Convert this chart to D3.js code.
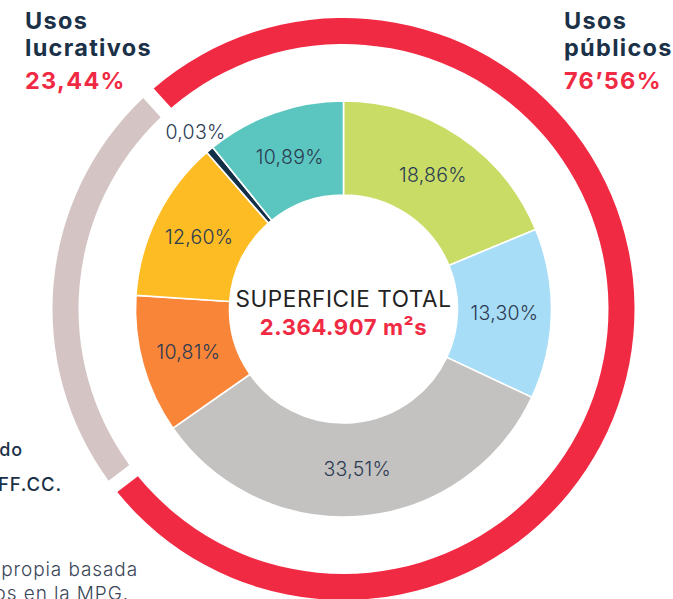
<!DOCTYPE html>
<html>
<head>
<meta charset="utf-8">
<script src="https://cdn.jsdelivr.net/npm/d3@7"></script>
<style>
  body { margin: 0; background: #fff; }
  svg { display: block; font-family: "Inter", "Lato", sans-serif; }
</style>
</head>
<body>
<div id="chart"></div>
<script>
// inner donut: share of total surface (%)
var sliceValues = [18.86, 13.30, 33.51, 10.81, 12.60, 0.03, 10.89];
var sliceLabels = ["18,86%", "13,30%", "33,51%", "10,81%", "12,60%", "0,03%", "10,89%"];
var sliceColors = ["#c9dd66", "#a7ddf6", "#c4c2c0", "#f98538", "#fdbc24", "#142f48", "#5bc6bf"];

// outer ring: public vs lucrative uses
var ringNames = ["Usos públicos", "Usos lucrativos"];
var ringValues = [76.56, 23.44];
var ringLabels = ["76’56%", "23,44%"];
var ringColors = ["#f12a44", "#d4c5c4"];

var width = 673,
  height = 599;
var cx = 343.5,
  cy = 309;
var navy = "#1b3148";

var svg = d3
  .select("#chart")
  .append("svg")
  .attr("width", width)
  .attr("height", height);

var g = svg.append("g").attr("transform", "translate(" + cx + "," + cy + ")");

// outer ring
var ringPie = d3
  .pie()
  .sort(null)
  .startAngle((-42.1 * Math.PI) / 180)
  .endAngle((-42.1 * Math.PI) / 180 + 2 * Math.PI)
  .padAngle(0.036);

var ringArc = d3.arc().innerRadius(265).outerRadius(291);

g.selectAll("path.ring")
  .data(ringPie(ringValues))
  .enter()
  .append("path")
  .attr("class", "ring")
  .attr("d", ringArc)
  .attr("fill", function (d, i) {
    return ringColors[i];
  });

// inner donut (tiny slice widened so it stays visible)
var pie = d3
  .pie()
  .sort(null)
  .value(function (d) {
    return Math.max(d, 0.6);
  });

var arc = d3.arc().innerRadius(114).outerRadius(208);
var labelArc = d3.arc().innerRadius(161).outerRadius(161);
var outsideArc = d3.arc().innerRadius(230).outerRadius(230);

var slices = pie(sliceValues);

g.selectAll("path.slice")
  .data(slices)
  .enter()
  .append("path")
  .attr("class", "slice")
  .attr("d", arc)
  .attr("fill", function (d, i) {
    return sliceColors[i];
  })
  .attr("stroke", "#fff")
  .attr("stroke-width", 1.6);

g.selectAll("text.slice-label")
  .data(slices)
  .enter()
  .append("text")
  .attr("class", "slice-label")
  .attr("transform", function (d) {
    var c = d.data < 1 ? outsideArc.centroid(d) : labelArc.centroid(d);
    if (d.data < 1) c[1] -= 1;
    return "translate(" + c + ")";
  })
  .attr("text-anchor", "middle")
  .attr("dy", "0.35em")
  .attr("font-size", 19.5)
  .attr("font-weight", 300)
  .attr("letter-spacing", 0.3)
  .attr("fill", "#2b3b52")
  .text(function (d, i) {
    return sliceLabels[i];
  });

// centre text
g.append("text")
  .attr("text-anchor", "middle")
  .attr("y", -2)
  .attr("font-size", 22.5)
  .attr("font-weight", 400)
  .attr("letter-spacing", 0.6)
  .attr("fill", "#222")
  .text("SUPERFICIE TOTAL");

g.append("text")
  .attr("text-anchor", "middle")
  .attr("y", 26)
  .attr("font-size", 22)
  .attr("font-weight", 700)
  .attr("letter-spacing", 0.6)
  .attr("fill", ringColors[0])
  .text("2.364.907 m²s");

// ring titles
function ringTitle(x, lines, pct) {
  var t = svg
    .append("text")
    .attr("x", x)
    .attr("font-size", 23.5)
    .attr("font-weight", 700)
    .attr("letter-spacing", 1.3);
  lines.forEach(function (l, i) {
    t.append("tspan")
      .attr("x", x)
      .attr("y", 29 + i * 27)
      .attr("fill", navy)
      .text(l);
  });
  t.append("tspan")
    .attr("x", x)
    .attr("y", 89)
    .attr("fill", ringColors[0])
    .text(pct);
}
ringTitle(25, ["Usos", "lucrativos"], ringLabels[1]);
ringTitle(564, ["Usos", "públicos"], ringLabels[0]);

// cropped side notes
function note(x, y, txt, size, weight, color) {
  svg.append("text")
    .attr("x", x)
    .attr("y", y)
    .attr("text-anchor", "end")
    .attr("font-size", size)
    .attr("font-weight", weight)
    .attr("letter-spacing", 0.9)
    .attr("fill", color)
    .text(txt);
}
note(23, 456, "do", 18, 500, navy);
note(62, 491, "FF.CC.", 18.5, 500, navy);
note(138, 576, "propia basada", 19, 300, "#3a4658");
note(129, 600, "datos en la MPG.", 19, 300, "#3a4658");
</script>
</body>
</html>
